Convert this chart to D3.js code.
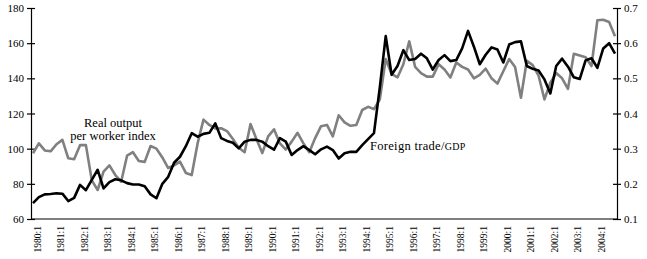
<!DOCTYPE html>
<html>
<head>
  <script src="https://d3js.org/d3.v7.min.js"></script>
  <style>
    body { margin: 0; background: #fff; }
    text { font-family: "Liberation Serif", "DejaVu Serif", serif; }
  </style>
</head>
<body>
<div id="chart"></div>
<script>
// quarterly, 1980:1 .. 2004:4
var years = d3.range(1980, 2005);
var tickLabels = years.map(function(y) { return y + ":1"; });

// Real output per worker index (left axis)
var outputIndex = [
  97.4, 103, 99, 98.5, 102.5, 105, 94.5, 94, 102, 102,
  82, 76.5, 87, 90.5, 85, 81.2, 96, 98, 93, 92.5,
  101.5, 100, 95, 89, 90.5, 92.6, 86.2, 85, 103, 116.5,
  113.5, 111.5, 111.6, 110, 105.5, 100.5, 98, 114, 105.5, 97.5,
  107, 111, 103, 99.5, 104, 109, 103, 98, 106, 112.8,
  113.5, 107, 119, 115, 113, 113.5, 122, 123.8, 122.5, 128,
  151, 142.5, 140.5, 148, 161, 146.5, 143, 141, 141, 148,
  145, 140.5, 149, 146.5, 145, 140, 142, 145.5, 140, 137,
  144, 151, 146.5, 129, 150, 147.5, 141.5, 128, 137.5, 143,
  140, 134, 154, 153, 152, 147, 173, 173.3, 172, 164
];

// Foreign trade / GDP (right axis)
var tradeGdp = [
  0.145, 0.162, 0.17, 0.171, 0.173, 0.172, 0.151, 0.16, 0.197, 0.182,
  0.211, 0.24, 0.187, 0.205, 0.213, 0.21, 0.202, 0.198, 0.198, 0.193,
  0.17, 0.159, 0.2, 0.22, 0.26, 0.277, 0.307, 0.344, 0.334, 0.342,
  0.345, 0.372, 0.33, 0.322, 0.317, 0.301, 0.32, 0.325, 0.325, 0.32,
  0.307, 0.297, 0.33, 0.32, 0.282, 0.296, 0.307, 0.296, 0.284, 0.298,
  0.306, 0.296, 0.272, 0.287, 0.291, 0.291, 0.31, 0.327, 0.344, 0.475,
  0.62, 0.51, 0.535, 0.58, 0.552, 0.555, 0.57, 0.557, 0.525, 0.552,
  0.566, 0.549, 0.552, 0.585, 0.635, 0.59, 0.54, 0.567, 0.588, 0.582,
  0.545, 0.596, 0.603, 0.605, 0.535, 0.527, 0.522, 0.497, 0.457, 0.535,
  0.556, 0.533, 0.503, 0.498, 0.551, 0.557, 0.53, 0.585, 0.6, 0.57
];

var leftTicks = [60, 80, 100, 120, 140, 160, 180];
var rightTicks = [0.1, 0.2, 0.3, 0.4, 0.5, 0.6, 0.7];

var W = 647, H = 259;
var mLeft = 31, mRight = 617, mTop = 8, mBottom = 219;

var svg = d3.select("#chart").append("svg")
  .attr("width", W)
  .attr("height", H);

var x = d3.scaleLinear().domain([0, outputIndex.length - 1]).range([mLeft + 2, mRight - 2]);
var yL = d3.scaleLinear().domain([60, 180]).range([mBottom, mTop]);
var yR = d3.scaleLinear().domain([0.1, 0.7]).range([mBottom, mTop]);

// axes
var gl = svg.append("g")
  .attr("transform", "translate(" + mLeft + ",0)")
  .call(d3.axisLeft(yL).tickValues(leftTicks).tickSize(4).tickSizeOuter(0));
gl.selectAll(".tick line").attr("x1", 4);

var gr = svg.append("g")
  .attr("transform", "translate(" + mRight + ",0)")
  .call(d3.axisRight(yR).tickValues(rightTicks).tickSize(4).tickSizeOuter(0)
    .tickFormat(d3.format(".1f")));
gr.selectAll(".tick line").attr("x1", -4);

var gx = svg.append("g")
  .attr("transform", "translate(0," + mBottom + ")")
  .call(d3.axisBottom(x)
    .tickValues(d3.range(0, outputIndex.length, 4))
    .tickFormat(function(d) { return tickLabels[d / 4]; })
    .tickSize(0).tickSizeOuter(0));
gx.select(".domain").attr("d", "M" + mLeft + ",0H" + mRight);
gx.selectAll(".tick text")
  .attr("text-anchor", "end")
  .attr("x", -7)
  .attr("y", 0)
  .attr("dy", "0")
  .attr("transform", "translate(7,0) rotate(-90)")
  .style("font-size", "9.5px")
  .attr("fill", "#000");

svg.selectAll(".domain").attr("stroke", "#000").attr("stroke-width", 1.2);
svg.selectAll(".tick line").attr("stroke", "#000").attr("stroke-width", 1.2);
gl.selectAll(".tick text").attr("x", -7).style("font-size", "11px").attr("fill", "#000");
gr.selectAll(".tick text").attr("x", 7).style("font-size", "11px").attr("fill", "#000");

// lines
var lineL = d3.line()
  .x(function(d, i) { return x(i); })
  .y(function(d) { return yL(d); });
var lineR = d3.line()
  .x(function(d, i) { return x(i); })
  .y(function(d) { return yR(d); });

svg.append("path")
  .datum(outputIndex)
  .attr("fill", "none")
  .attr("stroke", "#808080")
  .attr("stroke-width", 2.6)
  .attr("stroke-linejoin", "round")
  .attr("d", lineL);

svg.append("path")
  .datum(tradeGdp)
  .attr("fill", "none")
  .attr("stroke", "#000")
  .attr("stroke-width", 2.6)
  .attr("stroke-linejoin", "round")
  .attr("d", lineR);

// labels
svg.append("text")
  .attr("x", 113).attr("y", 127)
  .attr("text-anchor", "middle")
  .style("font-size", "12.5px")
  .text("Real output");
svg.append("text")
  .attr("x", 113).attr("y", 140)
  .attr("text-anchor", "middle")
  .style("font-size", "12.5px")
  .text("per worker index");

var ft = svg.append("text")
  .attr("x", 370).attr("y", 150)
  .style("font-size", "12.5px")
  .style("letter-spacing", "0.3px");
ft.append("tspan").text("Foreign trade/");
ft.append("tspan").style("font-size", "10px").text("GDP");
</script>
</body>
</html>
